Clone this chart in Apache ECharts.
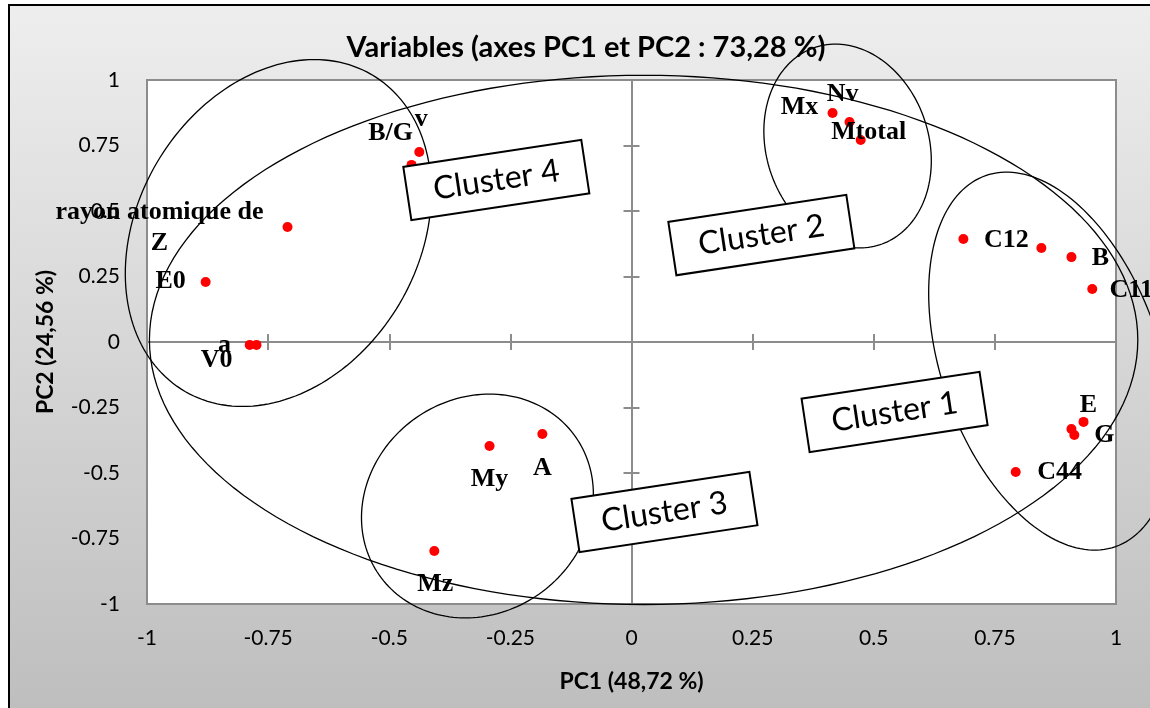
<!DOCTYPE html>
<html>
<head>
<meta charset="utf-8">
<script src="https://cdn.jsdelivr.net/npm/echarts@6/dist/echarts.min.js"></script>
<style>
html, body { margin: 0; padding: 0; }
#main { width: 1150px; height: 708px; }
</style>
</head>
<body>
<div id="main"></div>
<script>
// variables (PC1, PC2 loadings)
var varNames = ['v', 'B/G', 'rayon atomique de\nZ', 'E0', 'a', 'V0', 'Mx', 'Nv', 'Mtotal', 'C12', '', 'B', 'C11', 'E', 'G', '', 'C44', 'My', 'A', 'Mz'];
var pc1 = [-0.438, -0.454, -0.710, -0.879, -0.774, -0.788, 0.415, 0.450, 0.473, 0.685, 0.846, 0.908, 0.951, 0.933, 0.914, 0.908, 0.793, -0.293, -0.184, -0.407];
var pc2 = [0.725, 0.676, 0.439, 0.229, -0.011, -0.011, 0.874, 0.840, 0.771, 0.393, 0.359, 0.324, 0.202, -0.305, -0.355, -0.332, -0.496, -0.397, -0.351, -0.798];

// ellipses drawn around groups: centre, and two conjugate half-axes (PC1, PC2 units)
var ellipseCenters = [[0.025, 0.008], [0.865, -0.073], [0.446, 0.748], [-0.318, -0.626], [-0.729, 0.416]];
var ellipseAxisU = [[1.02, 0], [0.134, -0.708], [0.025, -0.389], [-0.025, -0.427], [-0.074, -0.662]];
var ellipseAxisV = [[0, 1.01], [0.213, 0.138], [0.171, 0], [0.238, 0], [0.307, 0]];

var clusterNames = ['Cluster 1', 'Cluster 2', 'Cluster 3', 'Cluster 4'];
var clusterPc1 = [0.543, 0.268, 0.068, -0.279];
var clusterPc2 = [-0.267, 0.408, -0.649, 0.618];

var tickInterval = 0.25;

// where each point label sits, relative to its dot (px)
var labelOffsets = [[2, -33], [-21, -32], [-128, 1], [-35, -1], [-32, 0], [-33, 15], [-33, -6], [-7, -28], [8, -8],
    [43, 1], [0, 0], [29, 1], [39, 1], [5, -17], [30, 0], [0, 0], [44, 0], [0, 33], [0, 34], [1, 33]];

var sans = 'Lato, "Open Sans", sans-serif';
var serif = '"Liberation Serif", "DejaVu Serif", serif';

var myChart = echarts.init(document.getElementById('main'));

var points = [];
for (var i = 0; i < pc1.length; i++) {
    points.push({
        name: varNames[i],
        value: [pc1[i], pc2[i]],
        label: {
            show: varNames[i] !== '',
            position: 'inside',
            offset: labelOffsets[i],
            align: 'center',
            verticalAlign: 'middle',
            lineHeight: 31
        }
    });
}

var ellipseData = ellipseCenters.map(function (c) { return c; });
var boxData = clusterPc1.map(function (x, i) { return [x, clusterPc2[i]]; });

function zeroAxis(inside) {
    return {
        type: 'value', min: -1, max: 1, interval: tickInterval,
        axisLine: { show: true, onZero: true, onZeroAxisIndex: 0, lineStyle: { color: '#8c8c8c', width: 2 } },
        axisTick: { show: true, inside: inside, length: 8, lineStyle: { color: '#8c8c8c', width: 2 } },
        axisLabel: { show: false },
        splitLine: { show: false }
    };
}

var option = {
    animation: false,
    graphic: [{
        type: 'rect', z: -10, silent: true,
        shape: { x: 9, y: 5, width: 1152, height: 720 },
        style: {
            fill: new echarts.graphic.LinearGradient(0, 0, 0, 1, [
                { offset: 0, color: '#eeeeee' }, { offset: 1, color: '#bdbdbd' }
            ]),
            stroke: '#000', lineWidth: 2
        }
    }],
    title: {
        text: 'Variables (axes PC1 et PC2 : 73,28 %)',
        left: 581, top: 28, textAlign: 'center',
        textStyle: { fontFamily: sans, fontWeight: 'bold', fontSize: 29, color: '#000' }
    },
    grid: {
        left: 147, right: 34, top: 80, bottom: 104,
        show: true, backgroundColor: '#fff', borderColor: '#8c8c8c', borderWidth: 2
    },
    xAxis: [
        {
            type: 'value', min: -1, max: 1, interval: tickInterval, position: 'bottom',
            axisLine: { show: false, onZero: false }, axisTick: { show: false }, splitLine: { show: false },
            axisLabel: { margin: 24, fontFamily: sans, fontSize: 21, color: '#000' },
            name: 'PC1 (48,72 %)', nameLocation: 'middle', nameGap: 66,
            nameTextStyle: { fontFamily: sans, fontWeight: 'bold', fontSize: 23, color: '#000' }
        },
        zeroAxis(true),
        zeroAxis(false)
    ],
    yAxis: [
        {
            type: 'value', min: -1, max: 1, interval: tickInterval, position: 'left',
            axisLine: { show: false, onZero: false }, axisTick: { show: false }, splitLine: { show: false },
            axisLabel: { margin: 27, fontFamily: sans, fontSize: 21, color: '#000' },
            name: 'PC2 (24,56 %)', nameLocation: 'middle', nameGap: 90, nameRotate: 90,
            nameTextStyle: { fontFamily: sans, fontWeight: 'bold', fontSize: 23, color: '#000' }
        },
        zeroAxis(true),
        zeroAxis(false)
    ],
    series: [
        {
            type: 'scatter', xAxisIndex: 0, yAxisIndex: 0, z: 3,
            symbol: 'circle', symbolSize: 10,
            itemStyle: { color: '#ff0000', opacity: 1 },
            label: { formatter: '{b}', color: '#000', fontFamily: serif, fontWeight: 'bold', fontSize: 26 },
            emphasis: { disabled: true },
            data: points
        },
        {
            type: 'custom', xAxisIndex: 0, yAxisIndex: 0, z: 4, silent: true,
            renderItem: function (params, api) {
                var i = params.dataIndex;
                var c = ellipseCenters[i], u = ellipseAxisU[i], v = ellipseAxisV[i];
                var pts = [];
                for (var k = 0; k < 180; k++) {
                    var t = k / 180 * Math.PI * 2;
                    pts.push(api.coord([
                        c[0] + u[0] * Math.cos(t) + v[0] * Math.sin(t),
                        c[1] + u[1] * Math.cos(t) + v[1] * Math.sin(t)
                    ]));
                }
                return { type: 'polygon', shape: { points: pts }, style: { fill: 'none', stroke: '#000', lineWidth: 1.3 } };
            },
            data: ellipseData
        },
        {
            type: 'custom', xAxisIndex: 0, yAxisIndex: 0, z: 5, silent: true,
            renderItem: function (params, api) {
                var p = api.coord([api.value(0), api.value(1)]);
                return {
                    type: 'group', x: p[0], y: p[1], rotation: 0.15,
                    children: [
                        { type: 'rect', shape: { x: -90, y: -27, width: 180, height: 54 },
                          style: { fill: '#fff', stroke: '#000', lineWidth: 2 } },
                        { type: 'text', x: 0, y: 0,
                          style: { text: clusterNames[params.dataIndex], fill: '#000', font: 'normal 32px ' + sans,
                                   align: 'center', verticalAlign: 'middle' } }
                    ]
                };
            },
            data: boxData
        }
    ]
};

myChart.setOption(option);
</script>
</body>
</html>
